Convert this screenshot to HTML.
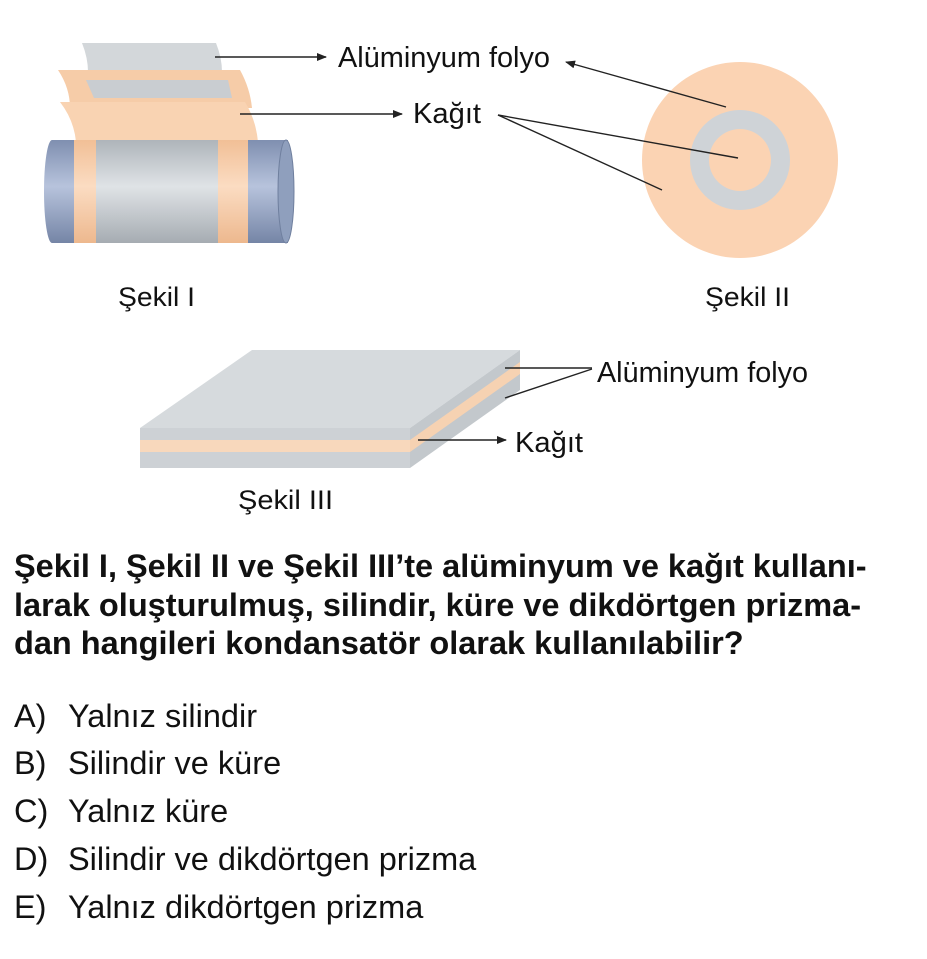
<!DOCTYPE html>
<html><head><meta charset="utf-8"><style>
body{margin:0;background:#fff;width:927px;height:959px;overflow:hidden;font-family:"Liberation Sans",Arial,sans-serif}
svg{position:absolute;left:0;top:0}
.q{position:absolute;left:14px;top:547px;font-weight:bold;font-size:32.5px;line-height:38.5px;color:#111;white-space:nowrap}
.o{position:absolute;left:14px;font-size:32.5px;line-height:38px;color:#111;white-space:nowrap}
.o span{position:absolute;left:54px}
</style></head><body>
<svg width="927" height="540" viewBox="0 0 927 540">
<defs>
<linearGradient id="cg" x1="0" y1="0" x2="0" y2="1"><stop offset="0" stop-color="#aeb4ba"/><stop offset="0.45" stop-color="#dfe3e6"/><stop offset="1" stop-color="#a6acb2"/></linearGradient>
<linearGradient id="cb" x1="0" y1="0" x2="0" y2="1"><stop offset="0" stop-color="#7f8fb0"/><stop offset="0.45" stop-color="#b7c3dc"/><stop offset="1" stop-color="#7585a6"/></linearGradient>
<linearGradient id="co" x1="0" y1="0" x2="0" y2="1"><stop offset="0" stop-color="#f1bf96"/><stop offset="0.45" stop-color="#fbdcc2"/><stop offset="1" stop-color="#edb88e"/></linearGradient>
<marker id="ah" markerWidth="10" markerHeight="8" refX="9" refY="4" orient="auto" markerUnits="userSpaceOnUse"><path d="M0,0 L10,4 L0,8 z" fill="#222"/></marker>
</defs>
<path d="M82,43 L216,43 Q222,58 222,72 L88,72 Q88,58 82,43z" fill="#d3d7da"/>
<path d="M58,70 L240,70 Q250,88 252,108 L70,108 Q70,88 58,70z" fill="#f6cca8"/>
<path d="M86,80 L228,80 L232,98 L94,98z" fill="#c9cdd1"/>
<path d="M60,102 L245,102 Q256,120 258,142 L76,142 Q74,120 60,102z" fill="#f9d3b2"/>
<rect x="52" y="140" width="236" height="103" fill="url(#cg)"/>
<rect x="52" y="140" width="28" height="103" fill="url(#cb)"/>
<ellipse cx="52" cy="191.5" rx="8" ry="51.5" fill="url(#cb)"/>
<rect x="74" y="140" width="22" height="103" fill="url(#co)"/>
<rect x="218" y="140" width="32" height="103" fill="url(#co)"/>
<rect x="248" y="140" width="40" height="103" fill="url(#cb)"/>
<ellipse cx="286" cy="191.5" rx="8" ry="51.5" fill="#8f9fbd" stroke="#6f7f9e"/>
<line x1="215" y1="57" x2="326" y2="57" stroke="#222" stroke-width="1.6" marker-end="url(#ah)"/>
<line x1="240" y1="114" x2="402" y2="114" stroke="#222" stroke-width="1.6" marker-end="url(#ah)"/>
<text x="338" y="67" font-size="29" fill="#111" textLength="212" lengthAdjust="spacingAndGlyphs">Alüminyum folyo</text>
<text x="413" y="123" font-size="29" fill="#111" textLength="68" lengthAdjust="spacingAndGlyphs">Kağıt</text>
<circle cx="740" cy="160" r="98" fill="#fbd3b3"/>
<circle cx="740" cy="160" r="50" fill="#cfd3d7"/>
<circle cx="740" cy="160" r="31" fill="#fbd3b3"/>
<line x1="726" y1="107" x2="566" y2="62" stroke="#222" stroke-width="1.4" marker-end="url(#ah)"/>
<line x1="498" y1="115" x2="738" y2="158" stroke="#222" stroke-width="1.4"/>
<line x1="498" y1="115" x2="662" y2="190" stroke="#222" stroke-width="1.4"/>
<text x="118" y="306" font-size="27" fill="#111" textLength="77" lengthAdjust="spacingAndGlyphs">Şekil I</text>
<text x="705" y="306" font-size="27" fill="#111" textLength="85" lengthAdjust="spacingAndGlyphs">Şekil II</text>
<polygon points="140,428 252,350 520,350 410,428" fill="#d6dadd"/>
<rect x="140" y="428" width="270" height="40" fill="#cdd1d5"/>
<rect x="140" y="440" width="270" height="12" fill="#f8d8bc"/>
<polygon points="410,428 520,350 520,390 410,468" fill="#c3c8cc"/>
<polygon points="410,440 520,362 520,374 410,452" fill="#f6d2b2"/>
<line x1="505" y1="368" x2="592" y2="368" stroke="#222" stroke-width="1.4"/>
<line x1="505" y1="398" x2="592" y2="369" stroke="#222" stroke-width="1.4"/>
<line x1="418" y1="440" x2="506" y2="440" stroke="#222" stroke-width="1.6" marker-end="url(#ah)"/>
<text x="597" y="382" font-size="29" fill="#111" textLength="211" lengthAdjust="spacingAndGlyphs">Alüminyum folyo</text>
<text x="515" y="452" font-size="29" fill="#111" textLength="68" lengthAdjust="spacingAndGlyphs">Kağıt</text>
<text x="238" y="509" font-size="27" fill="#111" textLength="95" lengthAdjust="spacingAndGlyphs">Şekil III</text>
</svg>
<div class="q">Şekil I, Şekil II ve Şekil III’te alüminyum ve kağıt kullanı-<br>larak oluşturulmuş, silindir, küre ve dikdörtgen prizma-<br>dan hangileri kondansatör olarak kullanılabilir?</div>
<div class="o" style="top:697px">A)<span>Yalnız silindir</span></div>
<div class="o" style="top:744px">B)<span>Silindir ve küre</span></div>
<div class="o" style="top:792px">C)<span>Yalnız küre</span></div>
<div class="o" style="top:840px">D)<span>Silindir ve dikdörtgen prizma</span></div>
<div class="o" style="top:888px">E)<span>Yalnız dikdörtgen prizma</span></div>
</body></html>
